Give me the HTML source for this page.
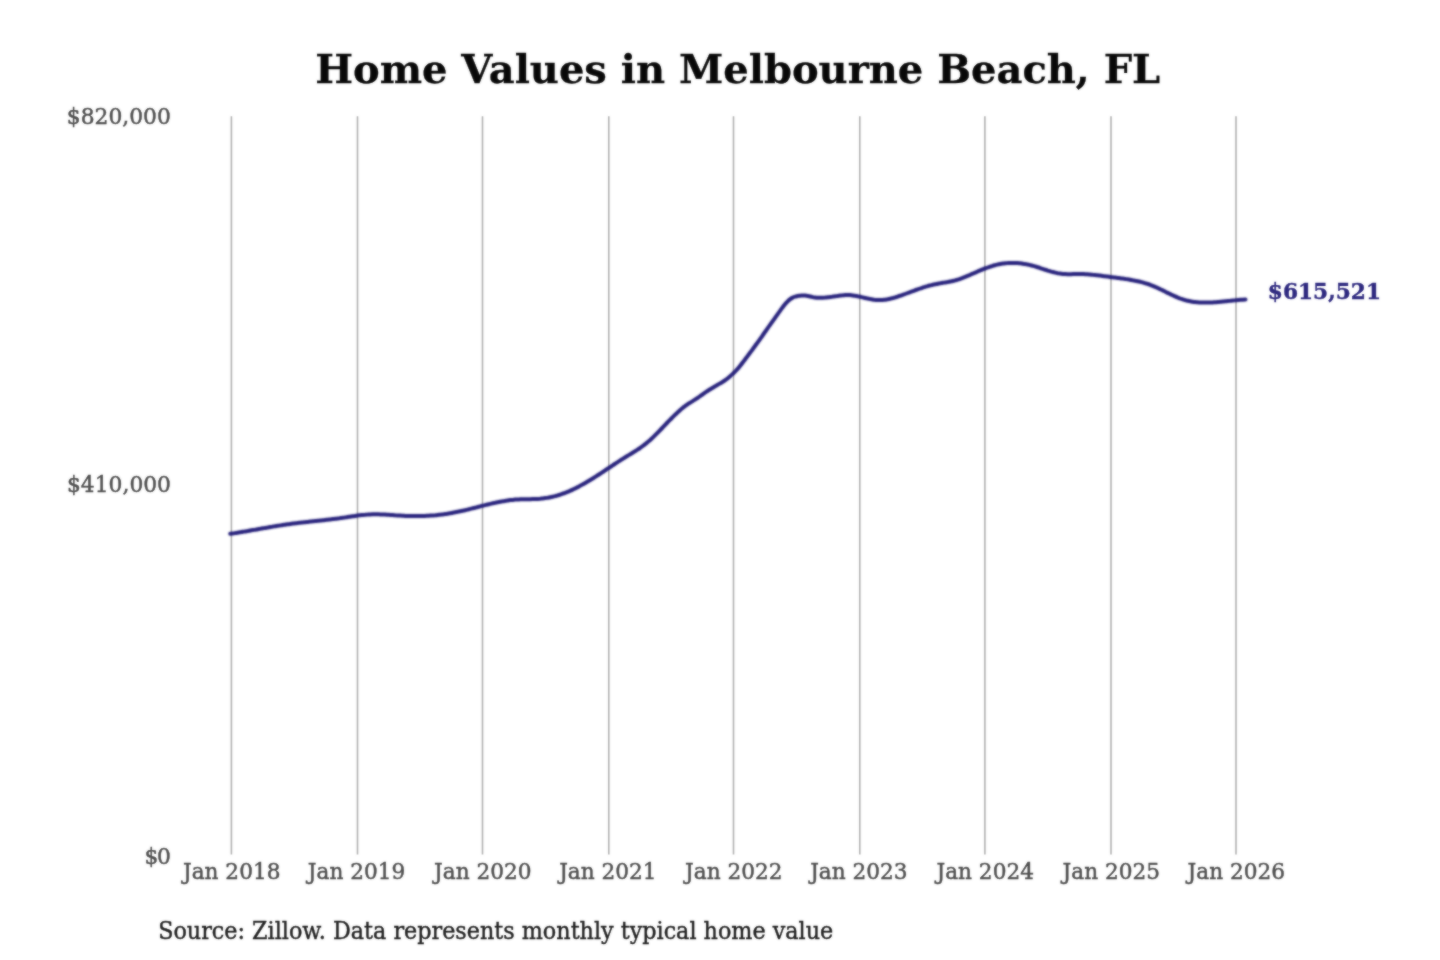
<!DOCTYPE html>
<html lang="en">
<head>
<meta charset="utf-8">
<title>Home Values in Melbourne Beach, FL</title>
<style>
html,body{margin:0;padding:0;background:#fff;}
body{width:1440px;height:960px;overflow:hidden;}
svg{display:block;}
text{font-family:"DejaVu Serif","Liberation Serif",serif;}
.title{font-size:40px;font-weight:bold;fill:#080808;stroke:#080808;stroke-width:0.3px;}
.ylab{font-size:21.8px;fill:#4c4c4c;stroke:#4c4c4c;stroke-width:0.45px;}
.xlab{font-size:21.65px;fill:#4c4c4c;stroke:#4c4c4c;stroke-width:0.45px;}
.src{font-size:22.29px;fill:#1c1c1c;stroke:#1e1e1e;stroke-width:0.4px;}
.val{font-size:21.7px;font-weight:bold;fill:#2c277e;stroke:#2c277e;stroke-width:0.4px;}
</style>
</head>
<body>
<svg width="1440" height="960" viewBox="0 0 1440 960" role="img" aria-label="Home Values in Melbourne Beach, FL">
<defs>
<filter id="soft" x="-20" y="-20" width="1480" height="1000" filterUnits="userSpaceOnUse" color-interpolation-filters="sRGB">
<feGaussianBlur in="SourceGraphic" stdDeviation="1" result="b"/>
<feComposite in="SourceGraphic" in2="b" operator="arithmetic" k1="0" k2="0.45" k3="0.55" k4="0"/>
</filter>
<filter id="lblur" x="-20" y="-20" width="1480" height="1000" filterUnits="userSpaceOnUse" color-interpolation-filters="sRGB">
<feGaussianBlur in="SourceGraphic" stdDeviation="1" result="b"/>
<feComposite in="SourceGraphic" in2="b" operator="arithmetic" k1="0" k2="0.15" k3="0.85" k4="0"/>
</filter>
</defs>
<g filter="url(#soft)">
<rect x="-20" y="-20" width="1480" height="1000" fill="#ffffff"/>
<text class="title" x="737.7" y="82.5" text-anchor="middle">Home Values in Melbourne Beach, FL</text>
<g stroke="#b0b0b0" stroke-width="1.6">
<line x1="231.40" y1="116.3" x2="231.40" y2="854.4"/>
<line x1="357.50" y1="116.3" x2="357.50" y2="854.4"/>
<line x1="482.50" y1="116.3" x2="482.50" y2="854.4"/>
<line x1="608.80" y1="116.3" x2="608.80" y2="854.4"/>
<line x1="733.50" y1="116.3" x2="733.50" y2="854.4"/>
<line x1="859.80" y1="116.3" x2="859.80" y2="854.4"/>
<line x1="984.90" y1="116.3" x2="984.90" y2="854.4"/>
<line x1="1111.00" y1="116.3" x2="1111.00" y2="854.4"/>
<line x1="1236.00" y1="116.3" x2="1236.00" y2="854.4"/>
</g>
<g class="ylab" text-anchor="end">
<text transform="translate(170.8 124.3) scale(1 1.05)" letter-spacing="0">$820,000</text>
<text transform="translate(171.0 491.8) scale(1 1.05)" letter-spacing="0">$410,000</text>
<text transform="translate(169.6 863.7) scale(1 1.05)" letter-spacing="-1.3">$0</text>
</g>
<g class="xlab" text-anchor="middle">
<text transform="translate(231.7 879.2) scale(1 1.04)">Jan 2018</text>
<text transform="translate(356.6 879.2) scale(1 1.04)">Jan 2019</text>
<text transform="translate(482.8 879.2) scale(1 1.04)">Jan 2020</text>
<text transform="translate(607.9 879.2) scale(1 1.04)">Jan 2021</text>
<text transform="translate(733.8 879.2) scale(1 1.04)">Jan 2022</text>
<text transform="translate(858.9 879.2) scale(1 1.04)">Jan 2023</text>
<text transform="translate(985.2 879.2) scale(1 1.04)">Jan 2024</text>
<text transform="translate(1111.3 879.2) scale(1 1.04)">Jan 2025</text>
<text transform="translate(1236.3 879.2) scale(1 1.04)">Jan 2026</text>
</g>
<text class="val" transform="translate(1267.8 298.6) scale(1 1.04)">$615,521</text>
<text class="src" transform="translate(158.2 938.5) scale(1 1.06)">Source: Zillow. Data represents monthly typical home value</text>
</g>
<path d="M230.2 533.8 C230.6 533.8 231.9 533.6 232.7 533.5 C233.5 533.3 234.4 533.2 235.2 533.1 C236.0 532.9 236.9 532.8 237.7 532.7 C238.5 532.5 239.4 532.4 240.2 532.3 C241.0 532.1 241.9 532.0 242.7 531.8 C243.5 531.7 244.4 531.5 245.2 531.4 C246.0 531.3 246.9 531.1 247.7 531.0 C248.5 530.8 249.4 530.7 250.2 530.5 C251.0 530.4 251.9 530.2 252.7 530.1 C253.5 530.0 254.4 529.8 255.2 529.7 C256.0 529.5 256.9 529.4 257.7 529.2 C258.5 529.1 259.4 528.9 260.2 528.8 C261.0 528.6 261.9 528.5 262.7 528.3 C263.5 528.2 264.4 528.0 265.2 527.9 C266.0 527.8 266.9 527.6 267.7 527.5 C268.5 527.3 269.4 527.2 270.2 527.0 C271.0 526.9 271.9 526.8 272.7 526.6 C273.5 526.5 274.4 526.3 275.2 526.2 C276.0 526.1 276.9 525.9 277.7 525.8 C278.5 525.7 279.4 525.5 280.2 525.4 C281.0 525.3 281.9 525.2 282.7 525.0 C283.5 524.9 284.4 524.8 285.2 524.7 C286.0 524.5 286.9 524.4 287.7 524.3 C288.5 524.2 289.4 524.1 290.2 524.0 C291.0 523.9 291.9 523.7 292.7 523.6 C293.5 523.5 294.4 523.4 295.2 523.3 C296.0 523.2 296.9 523.1 297.7 523.0 C298.5 522.9 299.4 522.8 300.2 522.7 C301.0 522.6 301.9 522.5 302.7 522.4 C303.5 522.3 304.4 522.3 305.2 522.2 C306.0 522.1 306.9 522.0 307.7 521.9 C308.5 521.8 309.4 521.7 310.2 521.6 C311.0 521.5 311.9 521.4 312.7 521.3 C313.5 521.3 314.4 521.2 315.2 521.1 C316.0 521.0 316.9 520.9 317.7 520.8 C318.5 520.7 319.4 520.6 320.2 520.5 C321.0 520.5 321.9 520.4 322.7 520.3 C323.5 520.2 324.4 520.1 325.2 520.0 C326.0 519.9 326.9 519.8 327.7 519.7 C328.5 519.6 329.4 519.5 330.2 519.4 C331.0 519.3 331.9 519.2 332.7 519.1 C333.5 519.0 334.4 518.9 335.2 518.8 C336.0 518.7 336.9 518.6 337.7 518.5 C338.5 518.4 339.4 518.3 340.2 518.1 C341.0 518.0 341.9 517.9 342.7 517.8 C343.5 517.7 344.4 517.6 345.2 517.4 C346.0 517.3 346.9 517.2 347.7 517.0 C348.5 516.9 349.4 516.8 350.2 516.7 C351.0 516.5 351.9 516.4 352.7 516.3 C353.5 516.1 354.4 516.0 355.2 515.9 C356.0 515.8 356.9 515.6 357.7 515.5 C358.5 515.4 359.4 515.3 360.2 515.2 C361.0 515.1 361.9 515.0 362.7 514.9 C363.5 514.8 364.4 514.7 365.2 514.7 C366.0 514.6 366.9 514.5 367.7 514.5 C368.5 514.4 369.4 514.4 370.2 514.4 C371.0 514.3 371.9 514.3 372.7 514.3 C373.5 514.3 374.4 514.3 375.2 514.3 C376.0 514.3 376.9 514.3 377.7 514.3 C378.5 514.3 379.4 514.4 380.2 514.4 C381.0 514.4 381.9 514.5 382.7 514.5 C383.5 514.5 384.4 514.6 385.2 514.6 C386.0 514.7 386.9 514.7 387.7 514.8 C388.5 514.8 389.4 514.9 390.2 514.9 C391.0 515.0 391.9 515.1 392.7 515.1 C393.5 515.2 394.4 515.2 395.2 515.3 C396.0 515.3 396.9 515.4 397.7 515.5 C398.5 515.5 399.4 515.6 400.2 515.6 C401.0 515.7 401.9 515.7 402.7 515.7 C403.5 515.8 404.4 515.8 405.2 515.9 C406.0 515.9 406.9 515.9 407.7 515.9 C408.5 516.0 409.4 516.0 410.2 516.0 C411.0 516.0 411.9 516.0 412.7 516.1 C413.5 516.1 414.4 516.1 415.2 516.1 C416.0 516.1 416.9 516.1 417.7 516.1 C418.5 516.1 419.4 516.1 420.2 516.1 C421.0 516.0 421.9 516.0 422.7 516.0 C423.5 516.0 424.4 515.9 425.2 515.9 C426.0 515.9 426.9 515.8 427.7 515.8 C428.5 515.7 429.4 515.7 430.2 515.6 C431.0 515.6 431.9 515.5 432.7 515.5 C433.5 515.4 434.4 515.3 435.2 515.3 C436.0 515.2 436.9 515.1 437.7 515.0 C438.5 514.9 439.4 514.8 440.2 514.7 C441.0 514.6 441.9 514.5 442.7 514.4 C443.5 514.3 444.4 514.2 445.2 514.1 C446.0 513.9 446.9 513.8 447.7 513.7 C448.5 513.5 449.4 513.4 450.2 513.3 C451.0 513.1 451.9 513.0 452.7 512.8 C453.5 512.7 454.4 512.5 455.2 512.3 C456.0 512.2 456.9 512.0 457.7 511.8 C458.5 511.7 459.4 511.5 460.2 511.3 C461.0 511.1 461.9 510.9 462.7 510.7 C463.5 510.6 464.4 510.4 465.2 510.2 C466.0 510.0 466.9 509.8 467.7 509.6 C468.5 509.4 469.4 509.1 470.2 508.9 C471.0 508.7 471.9 508.5 472.7 508.3 C473.5 508.1 474.4 507.9 475.2 507.7 C476.0 507.5 476.9 507.2 477.7 507.0 C478.5 506.8 479.4 506.6 480.2 506.4 C481.0 506.2 481.9 506.0 482.7 505.7 C483.5 505.5 484.4 505.3 485.2 505.1 C486.0 504.9 486.9 504.7 487.7 504.5 C488.5 504.3 489.4 504.1 490.2 503.9 C491.0 503.7 491.9 503.5 492.7 503.3 C493.5 503.1 494.4 502.9 495.2 502.8 C496.0 502.6 496.9 502.4 497.7 502.2 C498.5 502.1 499.4 501.9 500.2 501.7 C501.0 501.6 501.9 501.4 502.7 501.3 C503.5 501.1 504.4 501.0 505.2 500.9 C506.0 500.7 506.9 500.6 507.7 500.5 C508.5 500.4 509.4 500.2 510.2 500.1 C511.0 500.0 511.9 499.9 512.7 499.9 C513.5 499.8 514.4 499.7 515.2 499.6 C516.0 499.6 516.9 499.5 517.7 499.5 C518.5 499.4 519.4 499.4 520.2 499.3 C521.0 499.3 521.9 499.3 522.7 499.3 C523.5 499.3 524.4 499.3 525.2 499.3 C526.0 499.2 526.9 499.2 527.7 499.2 C528.5 499.2 529.4 499.2 530.2 499.2 C531.0 499.2 531.9 499.2 532.7 499.1 C533.5 499.1 534.4 499.1 535.2 499.0 C536.0 499.0 536.9 498.9 537.7 498.9 C538.5 498.8 539.4 498.7 540.2 498.7 C541.0 498.6 541.9 498.5 542.7 498.4 C543.5 498.3 544.4 498.2 545.2 498.1 C546.0 498.0 546.9 497.8 547.7 497.7 C548.5 497.5 549.4 497.4 550.2 497.2 C551.0 497.1 551.9 496.9 552.7 496.7 C553.5 496.5 554.4 496.3 555.2 496.1 C556.0 495.9 556.9 495.6 557.7 495.4 C558.5 495.1 559.4 494.9 560.2 494.6 C561.0 494.3 561.9 494.0 562.7 493.7 C563.5 493.4 564.4 493.1 565.2 492.8 C566.0 492.5 566.9 492.2 567.7 491.8 C568.5 491.5 569.4 491.1 570.2 490.7 C571.0 490.4 571.9 490.0 572.7 489.6 C573.5 489.2 574.4 488.8 575.2 488.4 C576.0 488.0 576.9 487.5 577.7 487.1 C578.5 486.7 579.4 486.2 580.2 485.8 C581.0 485.3 581.9 484.9 582.7 484.4 C583.5 484.0 584.4 483.5 585.2 483.0 C586.0 482.5 586.9 482.0 587.7 481.5 C588.5 481.0 589.4 480.5 590.2 480.0 C591.0 479.5 591.9 479.0 592.7 478.5 C593.5 478.0 594.4 477.4 595.2 476.9 C596.0 476.4 596.9 475.8 597.7 475.3 C598.5 474.8 599.4 474.2 600.2 473.7 C601.0 473.1 601.9 472.6 602.7 472.0 C603.5 471.5 604.4 470.9 605.2 470.4 C606.0 469.8 606.9 469.3 607.7 468.7 C608.5 468.1 609.4 467.6 610.2 467.0 C611.0 466.5 611.9 465.9 612.7 465.4 C613.5 464.8 614.4 464.3 615.2 463.7 C616.0 463.2 616.9 462.6 617.7 462.1 C618.5 461.5 619.4 461.0 620.2 460.5 C621.0 459.9 621.9 459.4 622.7 458.9 C623.5 458.3 624.4 457.8 625.2 457.3 C626.0 456.8 626.9 456.3 627.7 455.8 C628.5 455.2 629.4 454.7 630.2 454.2 C631.0 453.7 631.9 453.2 632.7 452.7 C633.5 452.2 634.4 451.7 635.2 451.1 C636.0 450.6 636.9 450.1 637.7 449.5 C638.5 449.0 639.4 448.4 640.2 447.8 C641.0 447.2 641.9 446.7 642.7 446.0 C643.5 445.4 644.4 444.8 645.2 444.2 C646.0 443.5 646.9 442.8 647.7 442.1 C648.5 441.4 649.4 440.7 650.2 440.0 C651.0 439.2 651.9 438.4 652.7 437.6 C653.5 436.8 654.4 436.0 655.2 435.2 C656.0 434.4 656.9 433.5 657.7 432.7 C658.5 431.8 659.4 431.0 660.2 430.1 C661.0 429.2 661.9 428.3 662.7 427.5 C663.5 426.6 664.4 425.7 665.2 424.8 C666.0 424.0 666.9 423.1 667.7 422.2 C668.5 421.4 669.4 420.5 670.2 419.7 C671.0 418.8 671.9 418.0 672.7 417.2 C673.5 416.4 674.4 415.5 675.2 414.7 C676.0 413.9 676.9 413.1 677.7 412.3 C678.5 411.6 679.4 410.8 680.2 410.1 C681.0 409.3 681.9 408.6 682.7 407.9 C683.5 407.2 684.4 406.6 685.2 405.9 C686.0 405.3 686.9 404.7 687.7 404.2 C688.5 403.6 689.4 403.1 690.2 402.6 C691.0 402.1 691.9 401.6 692.7 401.1 C693.5 400.5 694.4 400.0 695.2 399.5 C696.0 398.9 696.9 398.4 697.7 397.8 C698.5 397.2 699.4 396.6 700.2 396.1 C701.0 395.5 701.9 394.9 702.7 394.3 C703.5 393.7 704.4 393.1 705.2 392.5 C706.0 391.9 706.9 391.4 707.7 390.8 C708.5 390.3 709.4 389.7 710.2 389.2 C711.0 388.7 711.9 388.2 712.7 387.7 C713.5 387.2 714.4 386.7 715.2 386.2 C716.0 385.8 716.9 385.3 717.7 384.8 C718.5 384.3 719.4 383.9 720.2 383.4 C721.0 382.9 721.9 382.4 722.7 381.8 C723.5 381.3 724.4 380.7 725.2 380.2 C726.0 379.6 726.9 378.9 727.7 378.3 C728.5 377.6 729.4 377.0 730.2 376.2 C731.0 375.5 731.9 374.7 732.7 373.9 C733.5 373.1 734.4 372.3 735.2 371.4 C736.0 370.6 736.9 369.7 737.7 368.7 C738.5 367.8 739.4 366.8 740.2 365.7 C741.0 364.7 741.9 363.6 742.7 362.5 C743.5 361.4 744.4 360.3 745.2 359.2 C746.0 358.1 746.9 357.0 747.7 355.9 C748.5 354.7 749.4 353.6 750.2 352.5 C751.0 351.4 751.9 350.3 752.7 349.2 C753.5 348.0 754.4 346.9 755.2 345.8 C756.0 344.6 756.9 343.5 757.7 342.3 C758.5 341.2 759.4 340.0 760.2 338.8 C761.0 337.7 761.9 336.5 762.7 335.3 C763.5 334.1 764.4 332.9 765.2 331.7 C766.0 330.6 766.9 329.4 767.7 328.2 C768.5 327.0 769.4 325.8 770.2 324.7 C771.0 323.5 771.9 322.3 772.7 321.1 C773.5 320.0 774.4 318.8 775.2 317.6 C776.0 316.4 776.9 315.3 777.7 314.1 C778.5 312.9 779.4 311.7 780.2 310.6 C781.0 309.4 781.9 308.3 782.7 307.2 C783.5 306.1 784.4 305.0 785.2 304.0 C786.0 303.0 786.9 302.1 787.7 301.3 C788.5 300.5 789.4 299.7 790.2 299.1 C791.0 298.5 791.9 298.0 792.7 297.6 C793.5 297.1 794.4 296.8 795.2 296.6 C796.0 296.3 796.9 296.2 797.7 296.0 C798.5 295.9 799.4 295.8 800.2 295.7 C801.0 295.6 801.9 295.6 802.7 295.5 C803.5 295.5 804.4 295.5 805.2 295.6 C806.0 295.7 806.9 295.8 807.7 295.9 C808.5 296.1 809.4 296.3 810.2 296.5 C811.0 296.7 811.9 296.9 812.7 297.1 C813.5 297.3 814.4 297.4 815.2 297.5 C816.0 297.6 816.9 297.7 817.7 297.8 C818.5 297.8 819.4 297.8 820.2 297.8 C821.0 297.8 821.9 297.8 822.7 297.8 C823.5 297.7 824.4 297.6 825.2 297.6 C826.0 297.5 826.9 297.4 827.7 297.3 C828.5 297.2 829.4 297.1 830.2 297.0 C831.0 296.9 831.9 296.8 832.7 296.6 C833.5 296.5 834.4 296.4 835.2 296.3 C836.0 296.2 836.9 296.0 837.7 295.9 C838.5 295.8 839.4 295.7 840.2 295.6 C841.0 295.5 841.9 295.3 842.7 295.3 C843.5 295.2 844.4 295.1 845.2 295.0 C846.0 295.0 846.9 295.0 847.7 295.0 C848.5 295.0 849.4 295.0 850.2 295.1 C851.0 295.2 851.9 295.3 852.7 295.4 C853.5 295.5 854.4 295.6 855.2 295.8 C856.0 295.9 856.9 296.1 857.7 296.3 C858.5 296.4 859.4 296.6 860.2 296.8 C861.0 297.0 861.9 297.2 862.7 297.4 C863.5 297.6 864.4 297.8 865.2 298.0 C866.0 298.2 866.9 298.4 867.7 298.6 C868.5 298.7 869.4 298.9 870.2 299.1 C871.0 299.2 871.9 299.4 872.7 299.5 C873.5 299.7 874.4 299.8 875.2 299.9 C876.0 299.9 876.9 300.0 877.7 300.1 C878.5 300.1 879.4 300.1 880.2 300.1 C881.0 300.1 881.9 300.0 882.7 300.0 C883.5 299.9 884.4 299.8 885.2 299.7 C886.0 299.6 886.9 299.4 887.7 299.3 C888.5 299.1 889.4 298.9 890.2 298.7 C891.0 298.6 891.9 298.3 892.7 298.1 C893.5 297.9 894.4 297.6 895.2 297.4 C896.0 297.1 896.9 296.9 897.7 296.6 C898.5 296.3 899.4 296.0 900.2 295.8 C901.0 295.5 901.9 295.2 902.7 294.9 C903.5 294.6 904.4 294.3 905.2 294.0 C906.0 293.7 906.9 293.3 907.7 293.0 C908.5 292.7 909.4 292.4 910.2 292.1 C911.0 291.8 911.9 291.5 912.7 291.2 C913.5 290.9 914.4 290.6 915.2 290.2 C916.0 289.9 916.9 289.6 917.7 289.3 C918.5 289.0 919.4 288.8 920.2 288.5 C921.0 288.2 921.9 287.9 922.7 287.6 C923.5 287.3 924.4 287.1 925.2 286.8 C926.0 286.6 926.9 286.3 927.7 286.1 C928.5 285.8 929.4 285.6 930.2 285.4 C931.0 285.2 931.9 284.9 932.7 284.7 C933.5 284.6 934.4 284.4 935.2 284.2 C936.0 284.0 936.9 283.9 937.7 283.7 C938.5 283.6 939.4 283.4 940.2 283.3 C941.0 283.1 941.9 283.0 942.7 282.8 C943.5 282.7 944.4 282.6 945.2 282.4 C946.0 282.3 946.9 282.1 947.7 282.0 C948.5 281.8 949.4 281.7 950.2 281.5 C951.0 281.3 951.9 281.2 952.7 281.0 C953.5 280.8 954.4 280.6 955.2 280.4 C956.0 280.1 956.9 279.9 957.7 279.6 C958.5 279.4 959.4 279.1 960.2 278.8 C961.0 278.5 961.9 278.2 962.7 277.9 C963.5 277.6 964.4 277.2 965.2 276.9 C966.0 276.6 966.9 276.2 967.7 275.8 C968.5 275.5 969.4 275.1 970.2 274.8 C971.0 274.4 971.9 274.0 972.7 273.7 C973.5 273.3 974.4 272.9 975.2 272.6 C976.0 272.2 976.9 271.9 977.7 271.5 C978.5 271.1 979.4 270.8 980.2 270.4 C981.0 270.1 981.9 269.8 982.7 269.4 C983.5 269.1 984.4 268.8 985.2 268.4 C986.0 268.1 986.9 267.8 987.7 267.5 C988.5 267.2 989.4 266.9 990.2 266.6 C991.0 266.4 991.9 266.1 992.7 265.9 C993.5 265.6 994.4 265.4 995.2 265.2 C996.0 264.9 996.9 264.7 997.7 264.5 C998.5 264.4 999.4 264.2 1000.2 264.0 C1001.0 263.9 1001.9 263.7 1002.7 263.6 C1003.5 263.5 1004.4 263.4 1005.2 263.3 C1006.0 263.2 1006.9 263.1 1007.7 263.1 C1008.5 263.0 1009.4 263.0 1010.2 262.9 C1011.0 262.9 1011.9 262.9 1012.7 262.9 C1013.5 262.9 1014.4 262.9 1015.2 263.0 C1016.0 263.0 1016.9 263.0 1017.7 263.1 C1018.5 263.2 1019.4 263.2 1020.2 263.3 C1021.0 263.4 1021.9 263.5 1022.7 263.7 C1023.5 263.8 1024.4 263.9 1025.2 264.1 C1026.0 264.2 1026.9 264.4 1027.7 264.6 C1028.5 264.7 1029.4 264.9 1030.2 265.1 C1031.0 265.3 1031.9 265.5 1032.7 265.8 C1033.5 266.0 1034.4 266.2 1035.2 266.5 C1036.0 266.7 1036.9 267.0 1037.7 267.3 C1038.5 267.5 1039.4 267.8 1040.2 268.1 C1041.0 268.4 1041.9 268.7 1042.7 268.9 C1043.5 269.2 1044.4 269.5 1045.2 269.8 C1046.0 270.0 1046.9 270.3 1047.7 270.6 C1048.5 270.8 1049.4 271.1 1050.2 271.3 C1051.0 271.6 1051.9 271.8 1052.7 272.0 C1053.5 272.2 1054.4 272.4 1055.2 272.6 C1056.0 272.8 1056.9 273.0 1057.7 273.2 C1058.5 273.3 1059.4 273.5 1060.2 273.6 C1061.0 273.7 1061.9 273.8 1062.7 273.9 C1063.5 274.0 1064.4 274.1 1065.2 274.1 C1066.0 274.2 1066.9 274.2 1067.7 274.2 C1068.5 274.2 1069.4 274.2 1070.2 274.2 C1071.0 274.2 1071.9 274.1 1072.7 274.1 C1073.5 274.1 1074.4 274.0 1075.2 274.0 C1076.0 274.0 1076.9 274.0 1077.7 274.0 C1078.5 274.0 1079.4 274.0 1080.2 274.0 C1081.0 274.0 1081.9 274.0 1082.7 274.0 C1083.5 274.1 1084.4 274.1 1085.2 274.2 C1086.0 274.2 1086.9 274.3 1087.7 274.3 C1088.5 274.4 1089.4 274.4 1090.2 274.5 C1091.0 274.6 1091.9 274.7 1092.7 274.8 C1093.5 274.8 1094.4 274.9 1095.2 275.0 C1096.0 275.1 1096.9 275.2 1097.7 275.3 C1098.5 275.4 1099.4 275.5 1100.2 275.6 C1101.0 275.7 1101.9 275.9 1102.7 276.0 C1103.5 276.1 1104.4 276.2 1105.2 276.3 C1106.0 276.4 1106.9 276.5 1107.7 276.6 C1108.5 276.7 1109.4 276.9 1110.2 277.0 C1111.0 277.1 1111.9 277.2 1112.7 277.3 C1113.5 277.4 1114.4 277.5 1115.2 277.6 C1116.0 277.7 1116.9 277.8 1117.7 277.9 C1118.5 278.0 1119.4 278.1 1120.2 278.2 C1121.0 278.4 1121.9 278.5 1122.7 278.6 C1123.5 278.7 1124.4 278.8 1125.2 278.9 C1126.0 279.1 1126.9 279.2 1127.7 279.3 C1128.5 279.4 1129.4 279.6 1130.2 279.7 C1131.0 279.9 1131.9 280.0 1132.7 280.2 C1133.5 280.3 1134.4 280.5 1135.2 280.7 C1136.0 280.8 1136.9 281.0 1137.7 281.2 C1138.5 281.4 1139.4 281.6 1140.2 281.8 C1141.0 282.0 1141.9 282.2 1142.7 282.4 C1143.5 282.7 1144.4 282.9 1145.2 283.2 C1146.0 283.4 1146.9 283.7 1147.7 284.0 C1148.5 284.2 1149.4 284.5 1150.2 284.8 C1151.0 285.1 1151.9 285.5 1152.7 285.8 C1153.5 286.1 1154.4 286.5 1155.2 286.9 C1156.0 287.2 1156.9 287.6 1157.7 288.0 C1158.5 288.4 1159.4 288.8 1160.2 289.2 C1161.0 289.6 1161.9 290.0 1162.7 290.4 C1163.5 290.8 1164.4 291.2 1165.2 291.6 C1166.0 292.1 1166.9 292.5 1167.7 292.9 C1168.5 293.3 1169.4 293.7 1170.2 294.1 C1171.0 294.5 1171.9 294.9 1172.7 295.3 C1173.5 295.7 1174.4 296.1 1175.2 296.4 C1176.0 296.8 1176.9 297.2 1177.7 297.5 C1178.5 297.9 1179.4 298.2 1180.2 298.5 C1181.0 298.8 1181.9 299.1 1182.7 299.4 C1183.5 299.7 1184.4 299.9 1185.2 300.1 C1186.0 300.4 1186.9 300.6 1187.7 300.8 C1188.5 301.0 1189.4 301.2 1190.2 301.3 C1191.0 301.5 1191.9 301.6 1192.7 301.7 C1193.5 301.9 1194.4 302.0 1195.2 302.1 C1196.0 302.2 1196.9 302.3 1197.7 302.3 C1198.5 302.4 1199.4 302.5 1200.2 302.5 C1201.0 302.6 1201.9 302.6 1202.7 302.6 C1203.5 302.6 1204.4 302.6 1205.2 302.6 C1206.0 302.6 1206.9 302.6 1207.7 302.6 C1208.5 302.6 1209.4 302.6 1210.2 302.5 C1211.0 302.5 1211.9 302.4 1212.7 302.4 C1213.5 302.3 1214.4 302.3 1215.2 302.2 C1216.0 302.2 1216.9 302.1 1217.7 302.0 C1218.5 301.9 1219.4 301.9 1220.2 301.8 C1221.0 301.7 1221.9 301.6 1222.7 301.5 C1223.5 301.5 1224.4 301.4 1225.2 301.3 C1226.0 301.2 1226.9 301.1 1227.7 301.0 C1228.5 300.9 1229.4 300.8 1230.2 300.8 C1231.0 300.7 1231.9 300.6 1232.7 300.5 C1233.5 300.4 1234.4 300.3 1235.2 300.3 C1236.0 300.2 1236.9 300.1 1237.7 300.0 C1238.5 300.0 1239.4 299.9 1240.2 299.8 C1241.0 299.8 1241.9 299.7 1242.7 299.7 C1243.5 299.6 1244.8 299.6 1245.2 299.6 C1245.7 299.6 1245.4 299.6 1245.4 299.6" fill="none" stroke="#27227c" stroke-width="4.0" stroke-linecap="round" stroke-linejoin="round" filter="url(#lblur)"/>
</svg>
</body>
</html>
